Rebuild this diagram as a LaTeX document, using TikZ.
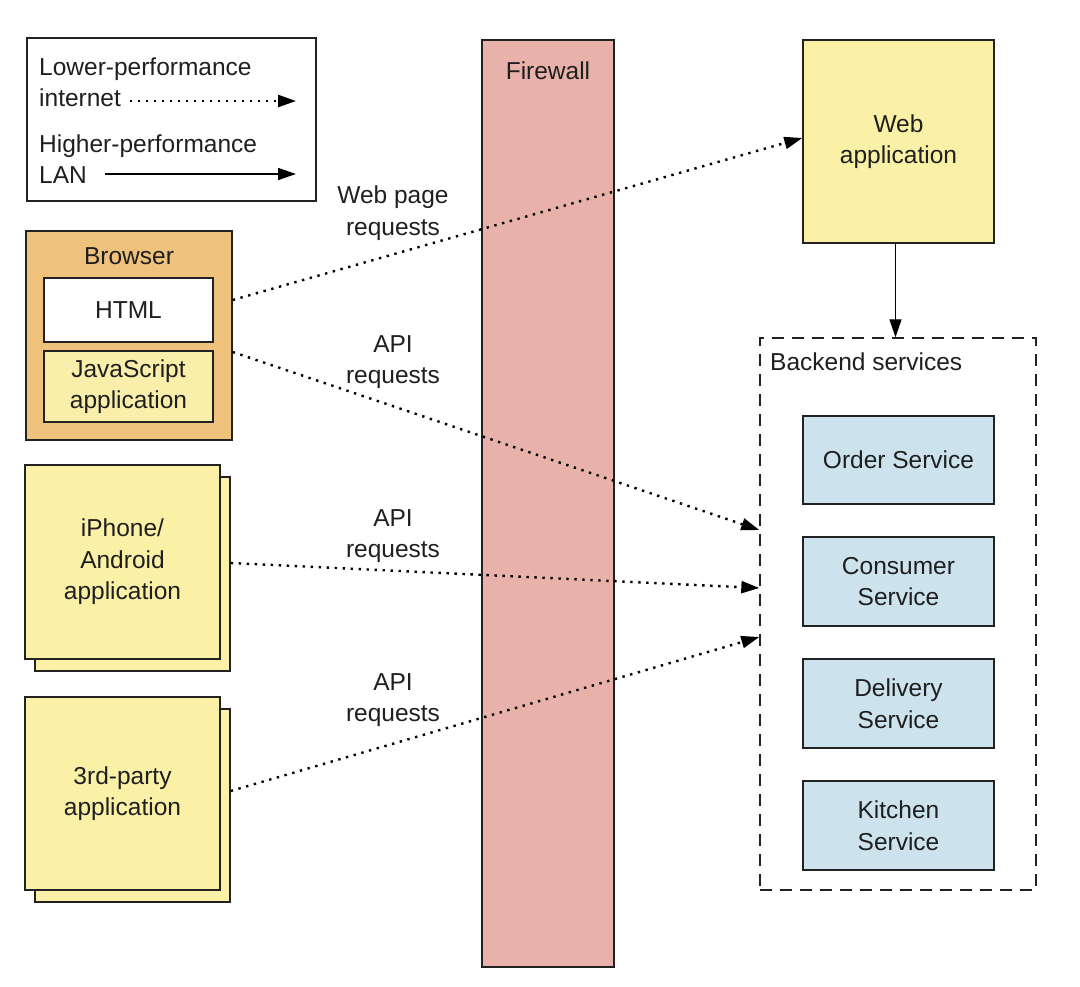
\documentclass[tikz,border=0pt]{standalone}
\usepackage{fontspec}
\setmainfont{Liberation Sans}
\usetikzlibrary{arrows.meta,shadows}
\definecolor{linegray}{HTML}{222222}
\definecolor{browserorange}{HTML}{EEC17C}
\definecolor{appyellow}{HTML}{FAF0A6}
\definecolor{jsyellow}{HTML}{F9EFAA}
\definecolor{firewallred}{HTML}{E8B2AB}
\definecolor{serviceblue}{HTML}{CCE3EE}
\begin{document}
\begin{tikzpicture}[x=1pt, y=-1pt, font=\fontsize{24.5}{31.5}\selectfont, text=black!88,
    box/.style = {draw=linegray, line width=1.4pt, inner sep=0pt, align=center},
    app/.style = {box, fill=appyellow, minimum width=195pt, minimum height=194pt,
                  copy shadow={shadow xshift=10pt, shadow yshift=-12pt}},
    service/.style = {box, fill=serviceblue, minimum width=191pt, minimum height=89pt},
    txt/.style = {inner sep=0pt, text height=20pt, text depth=1pt},
    lbl/.style = {inner sep=0pt, align=center},
    net/.style = {draw=black, line width=2.4pt, dash pattern=on 2.4pt off 5.6pt,
                  -{Triangle[length=18pt,width=12pt]}},
    lan/.style = {draw=black, line width=1.4pt, -{Triangle[length=18pt,width=12pt]}}]
    \useasboundingbox (0,0) rectangle (1080,987);
    %Legend
    \node[box, minimum width=289pt, minimum height=163pt] (legend) at (171.5,119.5) {};
    \node[txt, anchor=west] (lower) at (39,66) {Lower-performance};
    \node[txt, anchor=west] (internet) at (39,97) {internet};
    \node[txt, anchor=west] (higher) at (39,143) {Higher-performance};
    \node[txt, anchor=west] (lan) at (39,174) {LAN};
    \coordinate (netstart) at (130,101);
    \coordinate (netend) at (296,101);
    \coordinate (lanstart) at (105,174);
    \coordinate (lanend) at (296,174);
    \draw[net] (netstart) -- (netend);
    \draw[lan] (lanstart) -- (lanend);
    %Clients
    \node[box, fill=browserorange, minimum width=206pt, minimum height=209pt] (browser) at (129,335.5) {};
    \node[txt] (browserlbl) at (129,255) {Browser};
    \node[box, fill=white, minimum width=169pt, minimum height=64pt] (html) at (128.5,310) {HTML};
    \node[box, fill=jsyellow, minimum width=169pt, minimum height=71pt] (js) at (128.5,386.5) {JavaScript\\application};
    \node[app] (mobile) at (122.5,562) {iPhone/\\Android\\application};
    \node[app, minimum height=193pt] (thirdparty) at (122.5,793.5) {3rd-party\\application};
    %Firewall
    \node[box, fill=firewallred, minimum width=132pt, minimum height=927pt] (firewall) at (548,503.5) {};
    \node[txt] (firewalllbl) at (548,70) {Firewall};
    %Server side
    \node[box, fill=appyellow, minimum width=191pt, minimum height=203pt] (webapp) at (898.5,141.5) {Web\\application};
    \node[box, dash pattern=on 12pt off 8pt, minimum width=276pt, minimum height=552pt] (backend) at (898,614) {};
    \node[txt, anchor=west] (backendlbl) at (770,361) {Backend services};
    \node[service, minimum height=88pt] (order) at (898.5,460) {Order Service};
    \node[service] (consumer) at (898.5,581.5) {Consumer\\Service};
    \node[service] (delivery) at (898.5,703.5) {Delivery\\Service};
    \node[service] (kitchen) at (898.5,825.5) {Kitchen\\Service};
    %Requests
    \draw[lan] ([xshift=-3pt]webapp.south) -- ([xshift=-3pt]webapp.south |- backend.north);
    \draw[net] ([yshift=35.5pt]browser.east) -- ([yshift=3.5pt]webapp.west);
    \draw[net] ([yshift=-16.5pt]browser.east) -- ([yshift=84pt]backend.west);
    \draw[net] ([xshift=10pt,yshift=-1pt]mobile.east) -- ([yshift=26pt]backend.west);
    \draw[net] ([xshift=10pt,yshift=2.5pt]thirdparty.east) -- ([yshift=-23pt]backend.west);
    \node[lbl] (webreq) at (393,213) {Web page\\requests};
    \node[lbl] (jsreq) at (393,362) {API\\requests};
    \node[lbl] (mobilereq) at (393,536) {API\\requests};
    \node[lbl] (thirdreq) at (393,700) {API\\requests};
\end{tikzpicture}
\end{document}
